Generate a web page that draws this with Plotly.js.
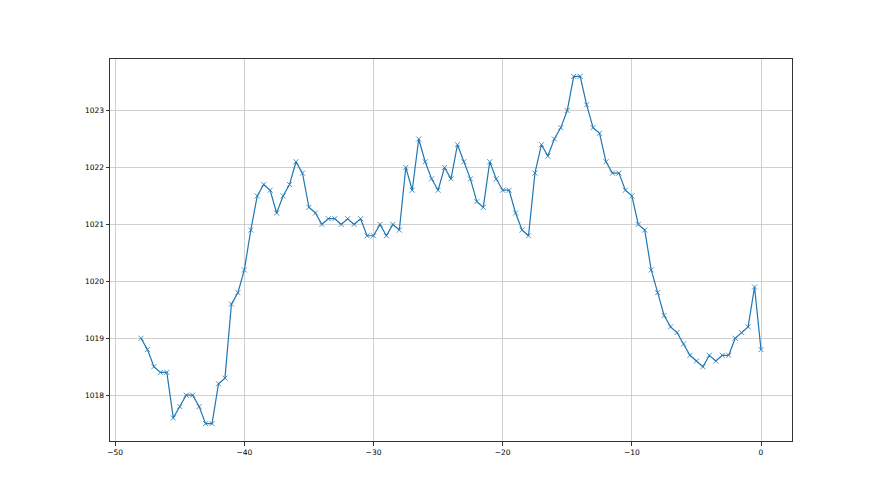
<!DOCTYPE html>
<html>
<head>
<meta charset="utf-8">
<script src="https://cdn.plot.ly/plotly-3.0.1.min.js"></script>
<style>html,body{margin:0;padding:0;background:#fff;}#chart{width:880px;height:495px;}</style>
</head>
<body>
<div id="chart"></div>
<script>
var xValues = [
  -48, -47.5, -47, -46.5, -46, -45.5, -45, -44.5, -44, -43.5,
  -43, -42.5, -42, -41.5, -41, -40.5, -40, -39.5, -39, -38.5,
  -38, -37.5, -37, -36.5, -36, -35.5, -35, -34.5, -34, -33.5,
  -33, -32.5, -32, -31.5, -31, -30.5, -30, -29.5, -29, -28.5,
  -28, -27.5, -27, -26.5, -26, -25.5, -25, -24.5, -24, -23.5,
  -23, -22.5, -22, -21.5, -21, -20.5, -20, -19.5, -19, -18.5,
  -18, -17.5, -17, -16.5, -16, -15.5, -15, -14.5, -14, -13.5,
  -13, -12.5, -12, -11.5, -11, -10.5, -10, -9.5, -9, -8.5,
  -8, -7.5, -7, -6.5, -6, -5.5, -5, -4.5, -4, -3.5,
  -3, -2.5, -2, -1.5, -1, -0.5, 0
];
var pressure = [
  1019.0, 1018.8, 1018.5, 1018.4, 1018.4, 1017.6, 1017.8, 1018.0, 1018.0, 1017.8,
  1017.5, 1017.5, 1018.2, 1018.3, 1019.6, 1019.8, 1020.2, 1020.9, 1021.5, 1021.7,
  1021.6, 1021.2, 1021.5, 1021.7, 1022.1, 1021.9, 1021.3, 1021.2, 1021.0, 1021.1,
  1021.1, 1021.0, 1021.1, 1021.0, 1021.1, 1020.8, 1020.8, 1021.0, 1020.8, 1021.0,
  1020.9, 1022.0, 1021.6, 1022.5, 1022.1, 1021.8, 1021.6, 1022.0, 1021.8, 1022.4,
  1022.1, 1021.8, 1021.4, 1021.3, 1022.1, 1021.8, 1021.6, 1021.6, 1021.2, 1020.9,
  1020.8, 1021.9, 1022.4, 1022.2, 1022.5, 1022.7, 1023.0, 1023.6, 1023.6, 1023.1,
  1022.7, 1022.6, 1022.1, 1021.9, 1021.9, 1021.6, 1021.5, 1021.0, 1020.9, 1020.2,
  1019.8, 1019.4, 1019.2, 1019.1, 1018.9, 1018.7, 1018.6, 1018.5, 1018.7, 1018.6,
  1018.7, 1018.7, 1019.0, 1019.1, 1019.2, 1019.9, 1018.8
];
var xTicks = [-50, -40, -30, -20, -10, 0];
var yTicks = [1018, 1019, 1020, 1021, 1022, 1023];

var trace = {
  x: xValues,
  y: pressure,
  type: 'scatter',
  mode: 'lines+markers',
  line: {color: '#1f77b4', width: 1.2},
  marker: {symbol: 'x-thin', size: 5, color: '#1f77b4', line: {color: '#1f77b4', width: 0.8}},
  hoverinfo: 'none'
};

var axisCommon = {
  showline: true,
  mirror: true,
  linecolor: '#333333',
  linewidth: 1,
  ticks: 'outside',
  ticklen: 3.5,
  tickwidth: 1,
  tickcolor: '#333333',
  showgrid: true,
  gridcolor: '#c4c4c4',
  gridwidth: 0.8,
  zeroline: false,
  tickfont: {family: 'DejaVu Sans', size: 7.5, color: '#000000'}
};

var layout = {
  width: 880,
  height: 495,
  margin: {l: 110, r: 88, t: 59, b: 54, pad: 0},
  paper_bgcolor: '#ffffff',
  plot_bgcolor: '#ffffff',
  showlegend: false,
  xaxis: Object.assign({}, axisCommon, {
    range: [-50.4, 2.4],
    tickmode: 'array',
    tickvals: xTicks,
    ticktext: xTicks.map(function(v){ return v < 0 ? '\u2212' + Math.abs(v) : String(v); })
  }),
  yaxis: Object.assign({}, axisCommon, {
    range: [1017.195, 1023.905],
    tickmode: 'array',
    tickvals: yTicks,
    ticktext: yTicks.map(String)
  })
};

Plotly.newPlot('chart', [trace], layout, {staticPlot: true, displayModeBar: false});
</script>
</body>
</html>
